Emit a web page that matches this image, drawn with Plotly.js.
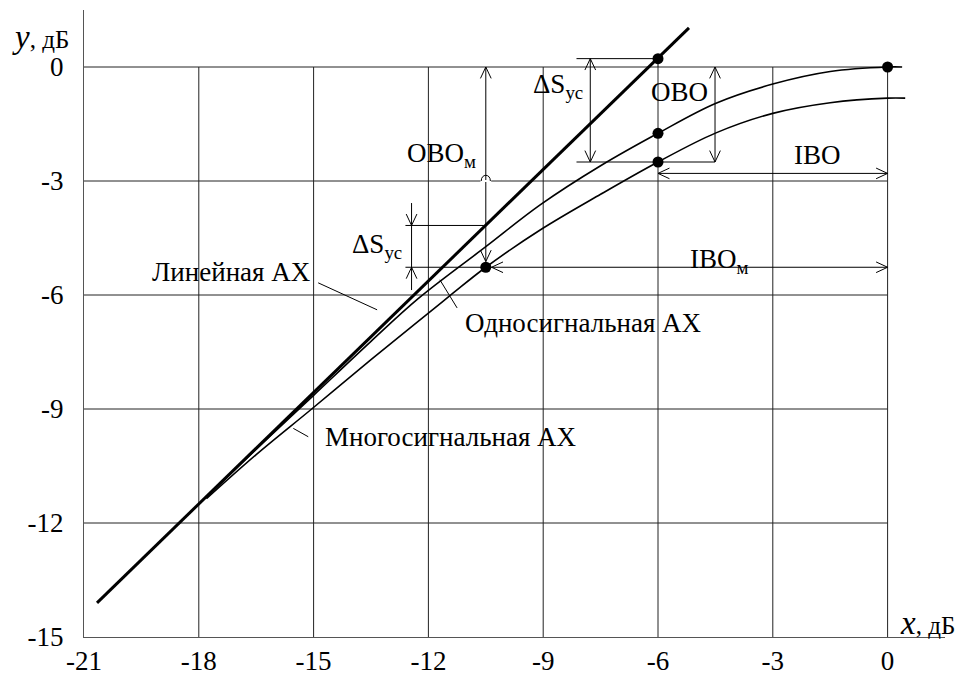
<!DOCTYPE html>
<html>
<head>
<meta charset="utf-8">
<script src="https://cdn.plot.ly/plotly-3.0.1.min.js"></script>
<style>body{margin:0;background:#fff}#chart{width:958px;height:675px}</style>
</head>
<body>
<div id="chart"></div>
<script>
// ---- data ----
const xTicks = [-21, -18, -15, -12, -9, -6, -3, 0];
const yTicks = [-15, -12, -9, -6, -3, 0];
const xTickText = ["-21", "-18", "-15", "-12", "-9", "-6", "-3", "0"];
const yTickText = ["-15", "-12", "-9", "-6", "-3", "0"];

// Линейная АХ
const linearX = [-20.66, -5.19];
const linearY = [-14.1, 1.03];

// Односигнальная АХ
const singleX = [-17.8, -16.5, -15, -13.5, -12.26, -10.5, -9.08, -7.5, -6, -4.5, -3, -1.5, 0, 0.38];
const singleY = [-11.32, -10.06, -8.64, -7.22, -6.09, -4.73, -3.63, -2.6, -1.745, -0.96, -0.45, -0.12, 0, 0];

// Многосигнальная АХ
const multiX = [-17.8, -16.5, -15.05, -13.5, -12.3, -11.39, -10.5, -9.08, -7.5, -6, -4.5, -3, -1.5, 0, 0.46];
const multiY = [-11.36, -10.2, -9.0, -7.7, -6.72, -5.98, -5.27, -4.29, -3.35, -2.5, -1.74, -1.22, -0.94, -0.82, -0.82];

// characteristic points
const pointX = [-6, -6, -6, 0, -10.5];
const pointY = [0.22, -1.745, -2.5, 0, -5.27];

// levels used by the dimension arrows
const satLin = 0.22, satSingle = 0, satMultiAtOp = -2.5, opX = -6, multiOpX = -10.5, multiOpY = -5.27, linAtMultiOp = -4.17, iboLevel = -2.8;

// ---- drawing ----
const BLK = '#000';
const FONT = 'Liberation Serif';
const FS = 27;
const L = 0.3, W = 0.14;
function seg(x0, y0, x1, y1, w) {
  return {type: 'line', xref: 'x', yref: 'y', x0: x0, y0: y0, x1: x1, y1: y1, line: {color: BLK, width: w || 1}, layer: 'above'};
}
function head(x, y, dir) {
  let p;
  if (dir === 'up') p = `M ${x - W},${y - L} L ${x},${y} L ${x + W},${y - L}`;
  if (dir === 'down') p = `M ${x - W},${y + L} L ${x},${y} L ${x + W},${y + L}`;
  if (dir === 'left') p = `M ${x + L},${y - W} L ${x},${y} L ${x + L},${y + W}`;
  if (dir === 'right') p = `M ${x - L},${y - W} L ${x},${y} L ${x - L},${y + W}`;
  return {type: 'path', xref: 'x', yref: 'y', path: p, line: {color: BLK, width: 1}, layer: 'above'};
}

const shapes = [];
// grid box
xTicks.slice(1).forEach(v => shapes.push(Object.assign(seg(v, -15, v, 0), {layer: 'below', line: {color: '#222', width: 1}})));
yTicks.slice(1).forEach(v => shapes.push(Object.assign(seg(-21, v, 0, v), {layer: 'below', line: {color: '#222', width: 1}})));

// upper ΔSус
const dsX = -7.77, dsL = -8.13, oboX = -4.51;
shapes.push(seg(dsL, satLin, opX, satLin));
shapes.push(seg(opX, satLin, opX, 0));
shapes.push(seg(dsL, satMultiAtOp, oboX, satMultiAtOp));
shapes.push(seg(dsX, satLin, dsX, satMultiAtOp));
shapes.push(head(dsX, satLin, 'up'));
shapes.push(head(dsX, satMultiAtOp, 'down'));
// OBO
shapes.push(seg(oboX, satSingle, oboX, satMultiAtOp));
shapes.push(head(oboX, satSingle, 'up'));
shapes.push(head(oboX, satMultiAtOp, 'down'));
// IBO
shapes.push(seg(opX, iboLevel, 0, iboLevel));
shapes.push(head(opX, iboLevel, 'left'));
shapes.push(head(0, iboLevel, 'right'));
// OBOм
shapes.push(seg(multiOpX, 0, multiOpX, multiOpY + 0.15));
shapes.push(head(multiOpX, 0, 'up'));
shapes.push(head(multiOpX, multiOpY + 0.15, 'down'));
shapes.push({type: 'path', xref: 'x', yref: 'y', path: `M ${multiOpX - 0.14},-3 L ${multiOpX + 0.14},-3`, line: {color: '#fff', width: 2}, layer: 'above'});
shapes.push({type: 'path', xref: 'x', yref: 'y', path: `M ${multiOpX - 0.12},-3 C ${multiOpX - 0.12},-2.8 ${multiOpX + 0.12},-2.8 ${multiOpX + 0.12},-3`, line: {color: BLK, width: 1}, layer: 'above'});
// IBOм
const dsLowX = -12.44, dsLowL = -12.6;
shapes.push(seg(dsLowL, multiOpY, 0, multiOpY));
shapes.push(head(multiOpX + 0.15, multiOpY, 'left'));
shapes.push(head(0, multiOpY, 'right'));
// lower ΔSус
shapes.push(seg(dsLowL, linAtMultiOp, multiOpX - 0.05, linAtMultiOp));
shapes.push(seg(dsLowX, -3.58, dsLowX, -5.87));
shapes.push(head(dsLowX, linAtMultiOp, 'down'));
shapes.push(head(dsLowX, multiOpY, 'up'));
// label pointers
shapes.push(seg(-14.88, -5.68, -13.34, -6.39));
shapes.push(seg(-11.7, -5.6, -11.25, -6.34));
shapes.push(seg(-15.53, -9.51, -15.14, -9.73));

function ann(x, y, text, xa) {
  return {x: x, y: y, xref: 'x', yref: 'y', text: text, showarrow: false, xanchor: xa || 'center', yanchor: 'middle', font: {family: FONT, size: FS, color: BLK}};
}
const annotations = [
  ann(-7.9, -0.5, 'ΔS<sub>ус</sub>', 'right'),
  ann(-5.45, -0.66, 'OBO'),
  ann(-1.84, -2.32, 'IBO'),
  ann(-11.65, -2.32, 'OBO<sub>м</sub>'),
  ann(-4.4, -5.1, 'IBO<sub>м</sub>'),
  ann(-12.65, -4.72, 'ΔS<sub>ус</sub>', 'right'),
  ann(-17.15, -5.39, 'Линейная АХ'),
  ann(-7.95, -6.74, 'Односигнальная АХ'),
  ann(-11.4, -9.74, 'Многосигнальная АХ'),
  {x: -0.05, y: 0.78, xref: 'paper', yref: 'y', text: '<span style="font-size:33px"><i>y</i></span>, дБ', showarrow: false, xanchor: 'center', yanchor: 'middle', font: {family: FONT, size: 25, color: BLK}},
  {x: 1.05, y: -14.62, xref: 'x', yref: 'y', text: '<span style="font-size:33px"><i>x</i></span>, дБ', showarrow: false, font: {family: FONT, size: 25, color: BLK}}
];

const traces = [
  {x: linearX, y: linearY, mode: 'lines', line: {color: BLK, width: 3}, hoverinfo: 'skip'},
  {x: singleX, y: singleY, mode: 'lines', line: {color: BLK, width: 1.6, shape: 'spline', smoothing: 1}, hoverinfo: 'skip'},
  {x: multiX, y: multiY, mode: 'lines', line: {color: BLK, width: 1.6, shape: 'spline', smoothing: 1}, hoverinfo: 'skip'},
  {x: pointX, y: pointY, mode: 'markers', marker: {color: BLK, size: 11}, hoverinfo: 'skip', cliponaxis: false}
];

const layout = {
  width: 958, height: 675,
  margin: {l: 84, r: 13, t: 10, b: 38},
  paper_bgcolor: '#fff', plot_bgcolor: '#fff',
  showlegend: false,
  font: {family: FONT, size: FS, color: BLK},
  xaxis: {range: [-21, 1.5], tickvals: xTicks, ticktext: xTickText, showgrid: false, zeroline: false, showline: true, linecolor: '#555', linewidth: 1, ticks: '', ticklabelstandoff: 0, tickfont: {family: FONT, size: FS, color: BLK}, fixedrange: true},
  yaxis: {range: [-15, 1.5], tickvals: yTicks, ticktext: yTickText, showgrid: false, zeroline: false, showline: true, linecolor: '#555', linewidth: 1, ticks: '', ticklabelstandoff: 14, tickfont: {family: FONT, size: FS, color: BLK}, fixedrange: true},
  shapes: shapes,
  annotations: annotations
};
Plotly.newPlot('chart', traces, layout, {staticPlot: true, displayModeBar: false});
</script>
</body>
</html>
